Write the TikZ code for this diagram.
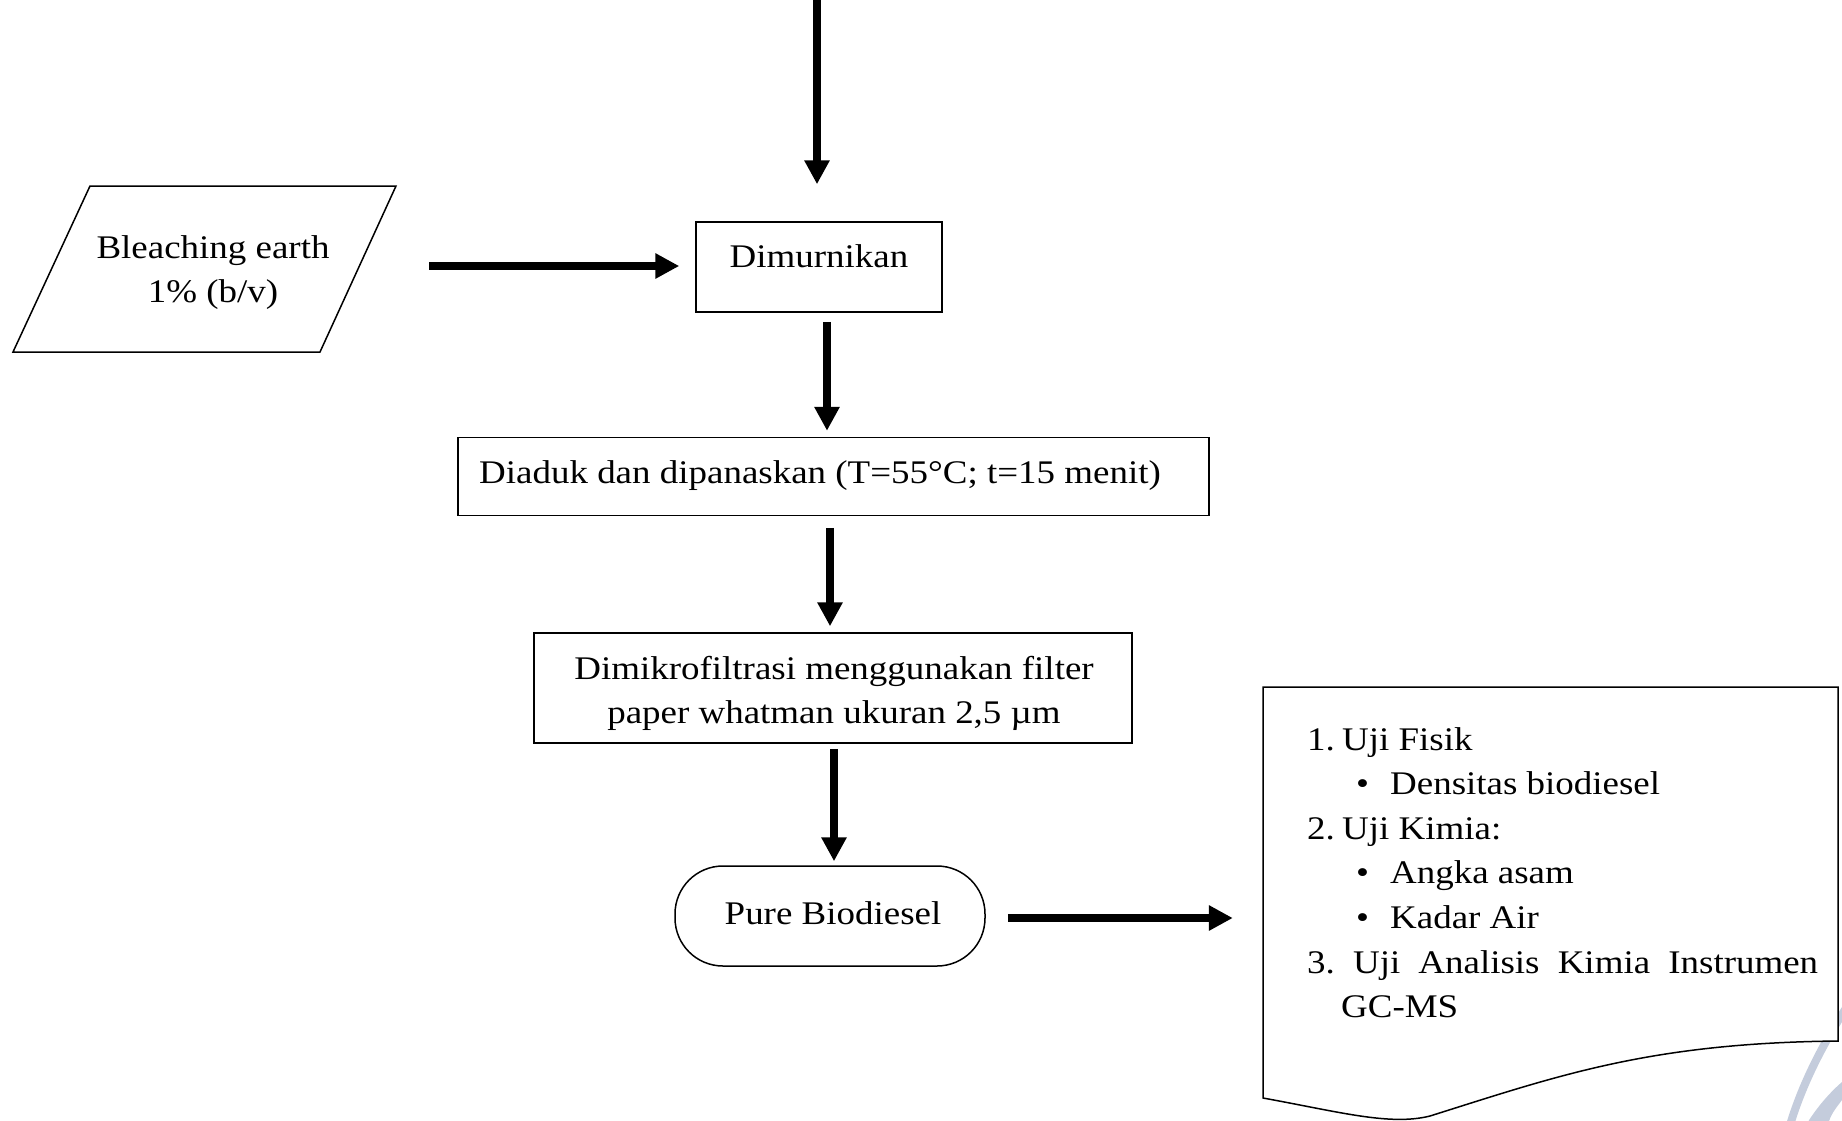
\documentclass[tikz,border=0pt]{standalone}
\usepackage{fontspec}
\setmainfont{Liberation Serif}[FakeStretch=1.12]
\usetikzlibrary{arrows.meta}
\definecolor{wmark}{RGB}{196,204,220}
\begin{document}
\begin{tikzpicture}[x=1pt,y=-1pt,
  every node/.style={font=\fontsize{33}{44.6}\selectfont},
  arr/.style={line width=8pt,-{Triangle[length=24pt,width=24pt]}},
  boxst/.style={draw,line width=1.5pt,inner sep=0pt},
  txt/.style={inner sep=0pt,anchor=base},
  ltxt/.style={inner sep=0pt,anchor=base west}]
\useasboundingbox (0,0) rectangle (1842,1120);

% watermark fragment
\draw[wmark,line width=8pt] (1848,1005) .. controls (1822,1045) and (1802,1085) .. (1790,1125);
\fill[wmark] (1842,1082) -- (1842,1100) .. controls (1836,1108) and (1830,1115) .. (1828,1125) -- (1806,1125) .. controls (1815,1110) and (1828,1094) .. cycle;

% input parallelogram
\node[minimum width=383pt,minimum height=166pt,inner sep=0pt] (bleach) at (204.5,269) {};
\draw[line width=1.5pt] (90,186) -- (396,186) -- (320,352) -- (13,352) -- cycle;
\node[txt] (bleachA) at (213,258) {Bleaching earth};
\node[txt] (bleachB) at (213,302) {1\% (b/v)};

% process boxes
\node[boxst,minimum width=246pt,minimum height=90pt] (dim) at (819,267) {};
\node[txt] (dimT) at (819,267) {Dimurnikan};

\node[boxst,minimum width=751pt,minimum height=78pt] (diad) at (833.5,476.5) {};
\node[txt] (diadT) at (820,483) {Diaduk dan dipanaskan (T=55°C; t=15 menit)};

\node[boxst,minimum width=598pt,minimum height=110pt] (mik) at (833,688) {};
\node[txt] (mikA) at (834,679) {Dimikrofiltrasi menggunakan filter};
\node[txt] (mikB) at (834,723) {paper whatman ukuran 2,5 µm};

\node[draw,line width=1.5pt,rounded corners=48pt,minimum width=310pt,minimum height=100pt,inner sep=0pt] (pure) at (830,916) {};
\node[txt] (pureT) at (833,924) {Pure Biodiesel};

% document shape
\node[minimum width=575pt,minimum height=433pt,inner sep=0pt] (doc) at (1550.5,903.5) {};
\draw[line width=1.5pt,fill=white] (1263,687) -- (1838,687) -- (1838,1041)
  .. controls (1650,1043) and (1560,1075) .. (1430,1116)
  .. controls (1390,1126) and (1340,1112) .. (1263,1098) -- cycle;
\node[ltxt] (l1) at (1307,750) {\makebox[35pt][l]{1.}Uji Fisik};
\node[ltxt] (l2) at (1356,794.6) {\makebox[34pt][l]{•}Densitas biodiesel};
\node[ltxt] (l3) at (1307,839.2) {\makebox[35pt][l]{2.}Uji Kimia:};
\node[ltxt] (l4) at (1356,883.8) {\makebox[34pt][l]{•}Angka asam};
\node[ltxt] (l5) at (1356,928.4) {\makebox[34pt][l]{•}Kadar Air};
\node[ltxt] (l6) at (1307,973) {\makebox[511pt][l]{3.\hfill Uji\hfill Analisis\hfill Kimia\hfill Instrumen}};
\node[ltxt] (l7) at (1341,1017.6) {GC-MS};

% connectors
\coordinate (src) at (817,0);
\draw[arr] (src) -- ([xshift=-2pt,yshift=37pt]dim.north);
\draw[arr] ([xshift=33pt,yshift=3pt]bleach.east) -- ([xshift=-16pt,yshift=1pt]dim.west);
\draw[arr] ([xshift=8pt,yshift=-9pt]dim.south) -- ([xshift=-6.5pt,yshift=6pt]diad.north);
\draw[arr] ([xshift=-3.5pt,yshift=-11.5pt]diad.south) -- ([xshift=-3pt,yshift=6pt]mik.north);
\draw[arr] ([xshift=1pt,yshift=-5pt]mik.south) -- ([xshift=4pt,yshift=4pt]pure.north);
\draw[arr] ([xshift=22pt,yshift=-2pt]pure.east) -- ([xshift=-30pt,yshift=-14.5pt]doc.west);
\end{tikzpicture}
\end{document}
